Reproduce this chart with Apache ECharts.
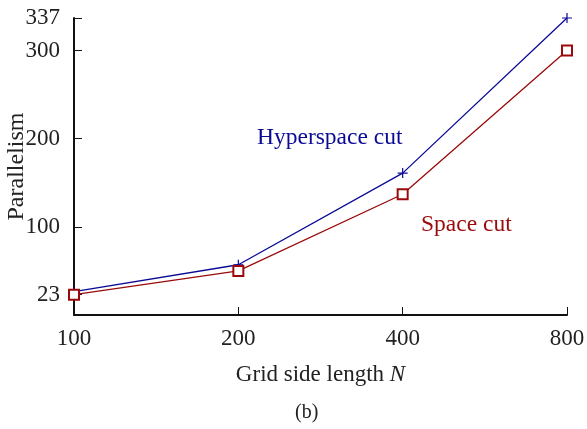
<!DOCTYPE html>
<html><head><meta charset="utf-8">
<script src="https://cdn.jsdelivr.net/npm/echarts@6/dist/echarts.min.js"></script>
<style>html,body{margin:0;padding:0;background:#fff}#c{width:587px;height:429px}</style>
</head><body><div id="c"></div>
<script>
const categories = ['100', '200', '400', '800'];
const hyperspaceCut = [26.5, 57, 161, 337];
const spaceCut = [23, 50, 137, 300];
const yTicks = [23, 100, 200, 300, 337];

const FONT = '"Liberation Serif", "DejaVu Serif", serif';
const BLUE = '#0a0a96';
const RED = '#9a0a0a';
const chart = echarts.init(document.getElementById('c'), null, {renderer: 'canvas'});
chart.setOption({
  animation: false,
  backgroundColor: '#fff',
  grid: {left: 74, right: 20, top: 18, bottom: 114, containLabel: false, outerBoundsMode: 'none'},
  xAxis: {
    type: 'category', data: categories, boundaryGap: false,
    name: '{a|Grid side length }{b|N}', nameLocation: 'middle', nameGap: 48, nameMoveOverlap: false,
    nameTextStyle: {rich: {a: {fontFamily: FONT, fontSize: 23, color: '#222'}, b: {fontFamily: FONT, fontSize: 23, fontStyle: 'italic', color: '#222'}}},
    axisLine: {lineStyle: {color: '#111', width: 2}},
    axisTick: {inside: true, length: 8, lineStyle: {color: '#111', width: 1}},
    axisLabel: {fontFamily: FONT, fontSize: 23, color: '#222', margin: 12},
    splitLine: {show: false}
  },
  yAxis: {
    type: 'value', min: 0, max: 337,
    name: 'Parallelism', nameLocation: 'middle', nameGap: 45, nameRotate: 90, nameMoveOverlap: false,
    nameTextStyle: {fontFamily: FONT, fontSize: 24, color: '#222'},
    axisLine: {show: true, lineStyle: {color: '#111', width: 2}},
    axisTick: {show: true, inside: true, length: 8, customValues: yTicks, lineStyle: {color: '#111', width: 1}},
    axisLabel: {fontFamily: FONT, fontSize: 23, color: '#222', margin: 14, customValues: yTicks},
    splitLine: {show: false}
  },
  graphic: [
    {type: 'text', left: 257, top: 126, style: {text: 'Hyperspace cut', font: '23.5px ' + FONT, fill: BLUE}},
    {type: 'text', left: 421, top: 213, style: {text: 'Space cut', font: '23.5px ' + FONT, fill: RED}},
    {type: 'text', left: 295, top: 403, style: {text: '(b)', font: '20px ' + FONT, fill: '#222'}}
  ],
  series: [
    {
      name: 'Hyperspace cut', type: 'line', data: hyperspaceCut,
      symbol: 'path://M4.4,0h1.2v10h-1.2z M0,4.4h10v1.2h-10z', symbolSize: 10,
      lineStyle: {color: BLUE, width: 1.3}, itemStyle: {color: BLUE}
    },
    {
      name: 'Space cut', type: 'line', data: spaceCut,
      symbol: 'emptyRect', symbolSize: 10,
      lineStyle: {color: RED, width: 1.3}, itemStyle: {color: RED, borderColor: RED, borderWidth: 1.1}
    }
  ]
});
</script></body></html>
